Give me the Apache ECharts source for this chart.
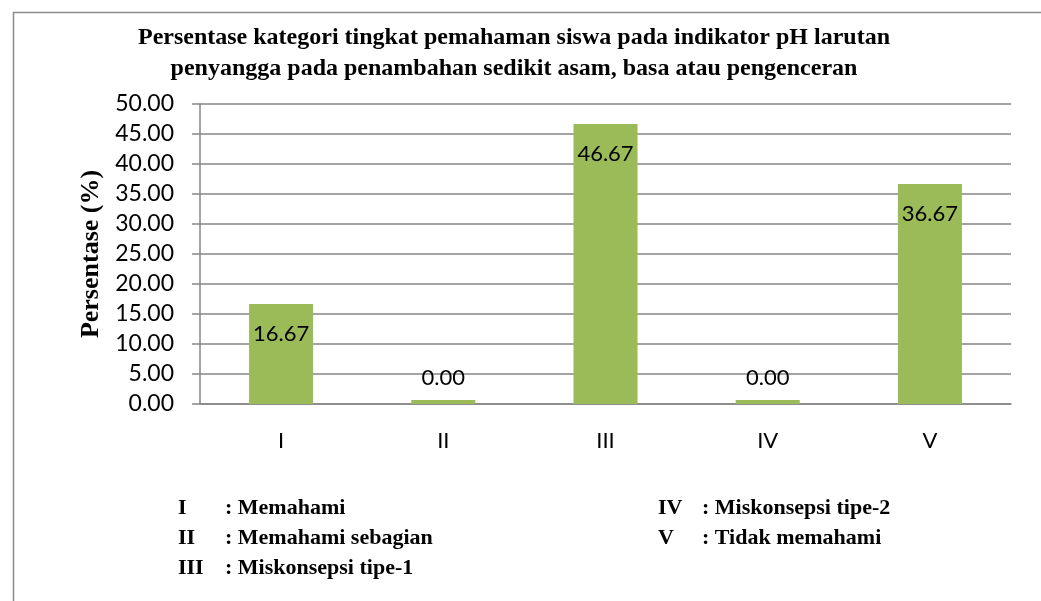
<!DOCTYPE html>
<html>
<head>
<meta charset="utf-8">
<script src="https://cdn.jsdelivr.net/npm/echarts@6/dist/echarts.min.js"></script>
<style>
  html, body { margin: 0; padding: 0; background: #fff; }
  #chart { width: 1041px; height: 601px; }
</style>
</head>
<body>
<div id="chart"></div>
<script>
// Datos del grafico
var categorias = ["I", "II", "III", "IV", "V"];
var valores = [16.67, 0.00, 46.67, 0.00, 36.67];
var keterangan = ["Memahami", "Memahami sebagian", "Miskonsepsi tipe-1", "Miskonsepsi tipe-2", "Tidak memahami"];
var judul = "Persentase kategori tingkat pemahaman siswa pada indikator pH larutan\npenyangga pada penambahan sedikit asam, basa atau pengenceran";
var ejeY = "Persentase (%)";

var serif = "'Liberation Serif', 'Times New Roman', serif";
var sans = "Lato, 'Open Sans', sans-serif";

// Etiquetas: dentro de la barra si hay espacio, encima si es cero
var datos = valores.map(function (v) {
  return {
    value: v,
    label: v > 5 ? { position: "insideTop", distance: 19 } : { position: "top", distance: 11 }
  };
});

// Leyenda de abajo (clave de categorias)
var leyenda = [];
categorias.forEach(function (c, i) {
  var col = i < 3 ? 0 : 1;
  var fila = i < 3 ? i : i - 3;
  var x0 = col == 0 ? 178 : 658;
  var y0 = 509 + fila * 30;
  leyenda.push({
    type: "text", left: x0, top: y0 - 12,
    style: { text: c, font: "bold 22px " + serif, fill: "#000" }
  });
  leyenda.push({
    type: "text", left: x0 + (col == 0 ? 47 : 44), top: y0 - 12,
    style: { text: ": " + keterangan[i], font: "bold 22px " + serif, fill: "#000" }
  });
});

var chart = echarts.init(document.getElementById("chart"));
chart.setOption({
  animation: false,
  title: {
    text: judul,
    left: 509,
    top: 17,
    textAlign: "center",
    textStyle: { fontFamily: serif, fontWeight: "bold", fontSize: 24, lineHeight: 31, color: "#000" }
  },
  grid: { left: 200, right: 30, top: 104, bottom: 197 },
  xAxis: {
    type: "category",
    data: categorias,
    axisLine: { lineStyle: { color: "#868686", width: 1.5 } },
    axisTick: { length: 8, lineStyle: { color: "#868686", width: 1.5 } },
    axisLabel: { margin: 26, fontFamily: sans, fontSize: 22, color: "#000" }
  },
  yAxis: {
    type: "value",
    min: 0, max: 50, interval: 5,
    name: ejeY,
    nameLocation: "middle",
    nameGap: 96,
    nameTextStyle: { fontFamily: serif, fontWeight: "bold", fontSize: 26, color: "#000" },
    axisLine: { show: true, lineStyle: { color: "#868686", width: 1.5 } },
    axisTick: { show: true, length: 8, lineStyle: { color: "#868686", width: 1.5 } },
    splitLine: { lineStyle: { color: "#868686", width: 1.5 } },
    axisLabel: {
      margin: 26, fontFamily: sans, fontSize: 23, color: "#000",
      formatter: function (v) { return v.toFixed(2); }
    }
  },
  series: [{
    type: "bar",
    data: datos,
    barWidth: "39.5%",
    barMinHeight: 4,
    itemStyle: { color: "#9BBB59" },
    label: {
      show: true, fontFamily: sans, fontSize: 22, color: "#000",
      formatter: function (p) { return p.value.toFixed(2); }
    }
  }],
  graphic: [{
    type: "rect", left: 11, top: 10, silent: true,
    shape: { width: 1100, height: 700 },
    style: { fill: "none", stroke: "#8c8c8c", lineWidth: 1.5 }
  }].concat(leyenda)
});
</script>
</body>
</html>
